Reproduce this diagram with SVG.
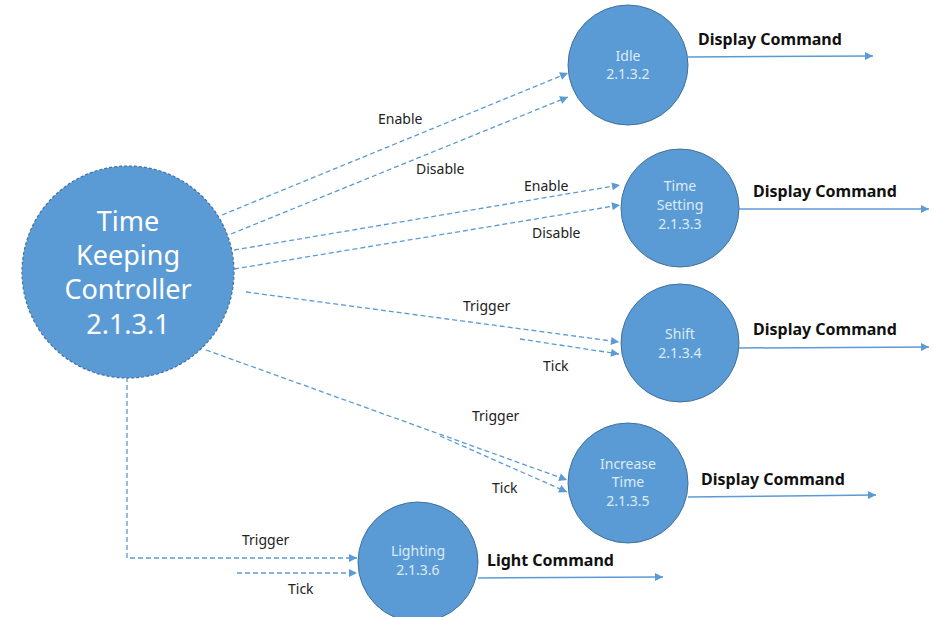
<svg xmlns="http://www.w3.org/2000/svg" width="935" height="617" viewBox="0 0 935 617">
<defs>
<style>
.node{fill:#5B9BD5;stroke:#41719C;stroke-width:1}
.main{fill:#5B9BD5;stroke:#41719C;stroke-width:1.2;stroke-dasharray:3 2}
.nt{font-family:"Noto Sans","Open Sans",sans-serif;font-size:14px;fill:#DDEBF7;text-anchor:middle}
.mt{font-family:"Noto Sans","Open Sans",sans-serif;font-size:27px;fill:#FFFFFF;text-anchor:middle}
.lbl{font-family:"Noto Sans","Open Sans",sans-serif;font-size:14px;fill:#222222}
.cmd{font-family:"Noto Sans","Open Sans",sans-serif;font-size:16px;font-weight:bold;fill:#111111}
.dash{fill:none;stroke:#5B9BD5;stroke-width:1.3;stroke-dasharray:5 3}
.solid{fill:none;stroke:#5B9BD5;stroke-width:1.5}
</style>
<marker id="ah" viewBox="0 0 10 10" refX="10" refY="5" markerWidth="10" markerHeight="8" markerUnits="userSpaceOnUse" orient="auto">
<path d="M0,0 L10,5 L0,10 z" fill="#5B9BD5"/>
</marker>
</defs>
<rect width="935" height="617" fill="#FFFFFF"/>
<g id="connectors">
<line class="dash" x1="222" y1="215" x2="568" y2="73" marker-end="url(#ah)"/>
<line class="dash" x1="231" y1="234" x2="568" y2="97" marker-end="url(#ah)"/>
<line class="dash" x1="234" y1="250" x2="620" y2="185" marker-end="url(#ah)"/>
<line class="dash" x1="234" y1="269" x2="620" y2="205" marker-end="url(#ah)"/>
<line class="dash" x1="246" y1="292" x2="619" y2="342" marker-end="url(#ah)"/>
<line class="dash" x1="520" y1="339" x2="619" y2="354" marker-end="url(#ah)"/>
<line class="dash" x1="206" y1="350" x2="567" y2="480" marker-end="url(#ah)"/>
<line class="dash" x1="440" y1="436" x2="567" y2="492" marker-end="url(#ah)"/>
<polyline class="dash" points="127,377 127,558 357,558" marker-end="url(#ah)"/>
<line class="dash" x1="237" y1="573" x2="357" y2="573" marker-end="url(#ah)"/>
<line class="solid" x1="688" y1="57" x2="873" y2="56" marker-end="url(#ah)"/>
<line class="solid" x1="739" y1="209" x2="929" y2="209" marker-end="url(#ah)"/>
<line class="solid" x1="739" y1="348" x2="929" y2="347" marker-end="url(#ah)"/>
<line class="solid" x1="688" y1="497" x2="876" y2="495" marker-end="url(#ah)"/>
<line class="solid" x1="478" y1="578" x2="663" y2="577" marker-end="url(#ah)"/>
<text class="lbl" x="378" y="124">Enable</text>
<text class="lbl" x="416" y="174">Disable</text>
<text class="lbl" x="524" y="191">Enable</text>
<text class="lbl" x="532" y="238">Disable</text>
<text class="lbl" x="463" y="311">Trigger</text>
<text class="lbl" x="543" y="371">Tick</text>
<text class="lbl" x="472" y="421">Trigger</text>
<text class="lbl" x="492" y="493">Tick</text>
<text class="lbl" x="242" y="545">Trigger</text>
<text class="lbl" x="288" y="594">Tick</text>
<text class="cmd" x="698" y="45">Display Command</text>
<text class="cmd" x="753" y="197">Display Command</text>
<text class="cmd" x="753" y="335">Display Command</text>
<text class="cmd" x="701" y="485">Display Command</text>
<text class="cmd" x="487" y="566">Light Command</text>
</g>
<g id="tkc">
<circle class="main" cx="128" cy="272" r="106"/>
<text class="mt" x="128" y="231">Time</text>
<text class="mt" x="128" y="265">Keeping</text>
<text class="mt" x="128" y="299">Controller</text>
<text class="mt" x="128" y="334">2.1.3.1</text>
</g>
<g id="idle">
<circle class="node" cx="628" cy="65" r="60"/>
<text class="nt" x="628" y="61">Idle</text>
<text class="nt" x="628" y="79">2.1.3.2</text>
</g>
<g id="timesetting">
<circle class="node" cx="680" cy="208" r="59"/>
<text class="nt" x="680" y="191">Time</text>
<text class="nt" x="680" y="210">Setting</text>
<text class="nt" x="680" y="229">2.1.3.3</text>
</g>
<g id="shift">
<circle class="node" cx="680" cy="343" r="59"/>
<text class="nt" x="680" y="339">Shift</text>
<text class="nt" x="680" y="358">2.1.3.4</text>
</g>
<g id="increase">
<circle class="node" cx="628" cy="483" r="60"/>
<text class="nt" x="628" y="469">Increase</text>
<text class="nt" x="628" y="487">Time</text>
<text class="nt" x="628" y="506">2.1.3.5</text>
</g>
<g id="lighting">
<circle class="node" cx="418" cy="562" r="60"/>
<text class="nt" x="418" y="556">Lighting</text>
<text class="nt" x="418" y="575">2.1.3.6</text>
</g>
</svg>
